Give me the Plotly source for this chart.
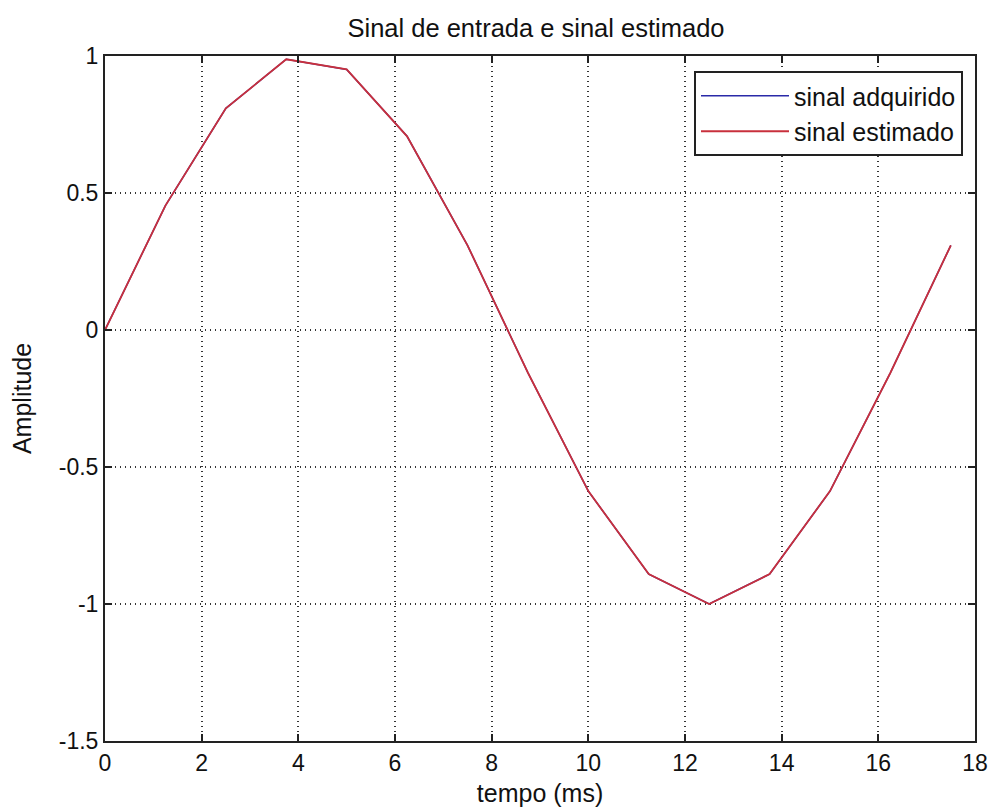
import plotly.graph_objects as go

tempo_ms = [0, 1.25, 2.5, 3.75, 5, 6.25, 7.5, 8.75, 10, 11.25, 12.5, 13.75, 15, 16.25, 17.5]
sinal_adquirido = [0, 0.454, 0.809, 0.988, 0.951, 0.707, 0.309, -0.156, -0.588, -0.891, -1.0, -0.891, -0.588, -0.156, 0.309]
sinal_estimado = [0, 0.454, 0.809, 0.988, 0.951, 0.707, 0.309, -0.156, -0.588, -0.891, -1.0, -0.891, -0.588, -0.156, 0.309]

x_ticks = [0, 2, 4, 6, 8, 10, 12, 14, 16, 18]
y_ticks = [-1.5, -1, -0.5, 0, 0.5, 1]
y_tick_labels = ["-1.5", "-1", "-0.5", "0", "0.5", "1"]

font_family = "Liberation Sans, Arial, sans-serif"

fig = go.Figure()
fig.add_trace(go.Scatter(x=tempo_ms, y=sinal_adquirido, mode="lines",
                         name="sinal adquirido", line=dict(color="#2a2aa8", width=1.5)))
fig.add_trace(go.Scatter(x=tempo_ms, y=sinal_estimado, mode="lines",
                         name="sinal estimado", line=dict(color="#c8303c", width=1.8)))

axis_common = dict(
    showline=True, linecolor="#222222", linewidth=2, mirror="ticks",
    ticks="inside", ticklen=7, tickcolor="#222222", tickwidth=2,
    showgrid=True, gridcolor="#333333", griddash="1px,4px", gridwidth=1.5,
    zeroline=False, automargin=False,
    tickfont=dict(family=font_family, size=23, color="#111111"),
)

fig.update_xaxes(range=[0, 18], tickvals=x_ticks, ticktext=[str(v) for v in x_ticks],
                 title=dict(text="tempo (ms)", font=dict(family=font_family, size=25, color="#111111"), standoff=10),
                 **axis_common)
fig.update_yaxes(range=[-1.5, 1], tickvals=y_ticks, ticktext=y_tick_labels,
                 title=dict(text="Amplitude", font=dict(family=font_family, size=25, color="#111111"), standoff=20),
                 **axis_common)

fig.update_layout(
    width=988, height=811,
    margin=dict(l=105, r=13, t=56, b=70),
    paper_bgcolor="white", plot_bgcolor="white",
    title=dict(text="Sinal de entrada e sinal estimado", x=536 / 988, xanchor="center",
               y=1 - 28 / 811, yanchor="middle",
               font=dict(family=font_family, size=25.5, color="#111111")),
    legend=dict(x=(963 - 105) / 870, y=(741 - 71) / 685, xanchor="right", yanchor="top",
                bgcolor="white", bordercolor="#222222", borderwidth=2,
                font=dict(family=font_family, size=25, color="#111111"),
                itemwidth=88, tracegroupgap=0),
    showlegend=True,
)

fig.write_html("out.html")
